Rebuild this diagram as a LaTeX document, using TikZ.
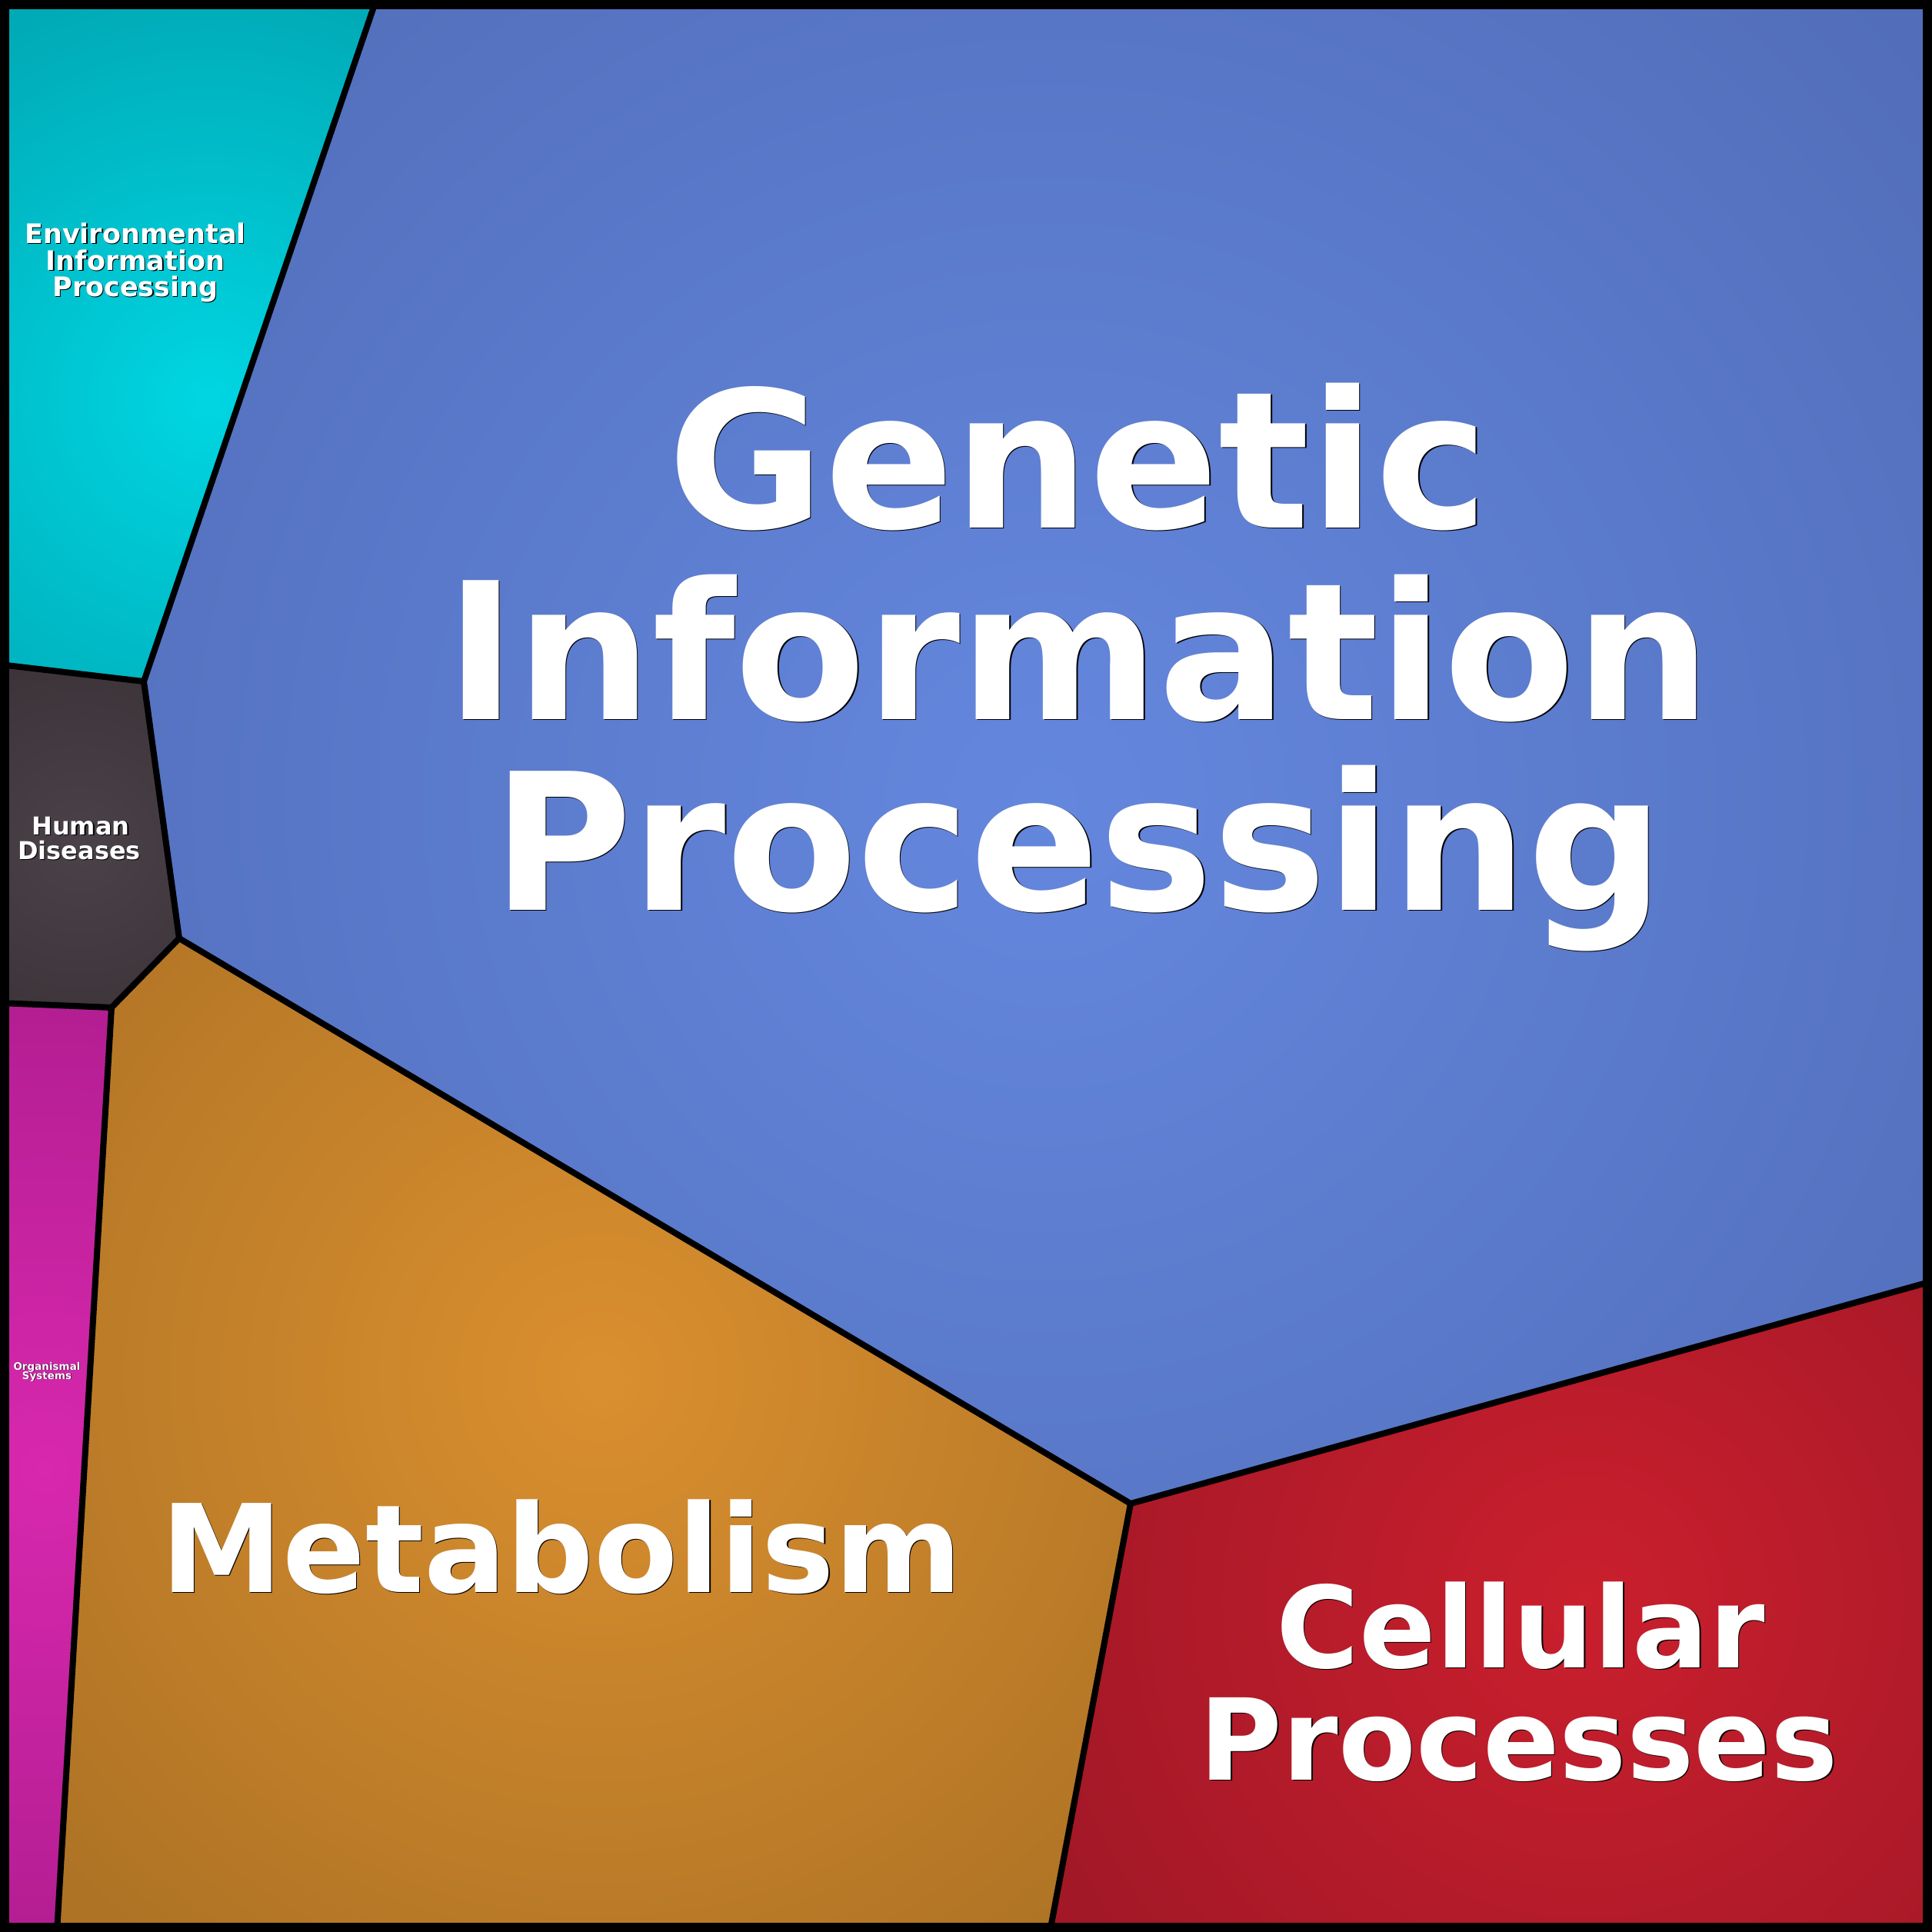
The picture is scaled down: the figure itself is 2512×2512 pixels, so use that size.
\documentclass[tikz,border=0pt]{standalone}
\usepackage{fontspec}
\setmainfont{DejaVu Sans}
\usetikzlibrary{calc}
\definecolor{genin}{HTML}{6487DE}
\definecolor{genout}{HTML}{526EBA}
\definecolor{envin}{HTML}{00D6E2}
\definecolor{envout}{HTML}{00A6B2}
\definecolor{humin}{HTML}{4A4248}
\definecolor{humout}{HTML}{3A3237}
\definecolor{orgin}{HTML}{D828AE}
\definecolor{orgout}{HTML}{AE1C8E}
\definecolor{metin}{HTML}{DA8F2F}
\definecolor{metout}{HTML}{AE7325}
\definecolor{celin}{HTML}{CA1F2D}
\definecolor{celout}{HTML}{A31827}
\pgfdeclareradialshading{genshade}{\pgfpointorigin}{color(0pt)=(genin); color(1500pt)=(genout); color(3000pt)=(genout)}
\pgfdeclareradialshading{envshade}{\pgfpointorigin}{color(0pt)=(envin); color(600pt)=(envout); color(1400pt)=(envout)}
\pgfdeclareradialshading{humshade}{\pgfpointorigin}{color(0pt)=(humin); color(280pt)=(humout); color(600pt)=(humout)}
\pgfdeclareradialshading{orgshade}{\pgfpointorigin}{color(0pt)=(orgin); color(700pt)=(orgout); color(1400pt)=(orgout)}
\pgfdeclareradialshading{metshade}{\pgfpointorigin}{color(0pt)=(metin); color(950pt)=(metout); color(2000pt)=(metout)}
\pgfdeclareradialshading{celshade}{\pgfpointorigin}{color(0pt)=(celin); color(750pt)=(celout); color(1600pt)=(celout)}
\tikzset{
  cellborder/.style={draw=black,line width=8pt,line join=miter},
  wtxt/.style={text=white,inner sep=0pt,anchor=base},
  stxt/.style={text=black,inner sep=0pt,anchor=base},
  shadenode/.style={inner sep=0pt,outer sep=0pt},
}
\newcommand\shadedcell[4]{% path, center, shading, outer
  \fill[#4] #1;
  \begin{scope}
    \clip #1;
    \node[shadenode] at #2 {\pgfuseshading{#3}};
  \end{scope}
}
\begin{document}
\begin{tikzpicture}[x=1pt,y=-1pt]
\useasboundingbox (0,0) rectangle (2512,2512);
% vertices
\coordinate (A) at (489,0);
\coordinate (B) at (187,886);
\coordinate (C) at (233,1220);
\coordinate (D) at (145,1310);
\coordinate (E) at (1470,1955);
\coordinate (L1) at (0,864);
\coordinate (L2) at (0,1304);
\coordinate (B1) at (74,2512);
\coordinate (B2) at (1365,2512);
\coordinate (R1) at (2512,1666);
\coordinate (TL) at (0,0);
\coordinate (TR) at (2512,0);
\coordinate (BL) at (0,2512);
\coordinate (BR) at (2512,2512);
% cells
\shadedcell{(TL) -- (A) -- (B) -- (L1) -- cycle}{(270,520)}{envshade}{envout}
\shadedcell{(L1) -- (B) -- (C) -- (D) -- (L2) -- cycle}{(105,1100)}{humshade}{humout}
\shadedcell{(L2) -- (D) -- (B1) -- (BL) -- cycle}{(58,1910)}{orgshade}{orgout}
\shadedcell{(D) -- (C) -- (E) -- (B2) -- (B1) -- cycle}{(780,1790)}{metshade}{metout}
\shadedcell{(E) -- (R1) -- (BR) -- (B2) -- cycle}{(2060,2080)}{celshade}{celout}
\shadedcell{(A) -- (TR) -- (R1) -- (E) -- (C) -- (B) -- cycle}{(1360,1040)}{genshade}{genout}
% borders
\draw[cellborder] (A) -- (B) -- (C) -- (E) -- (R1);
\draw[cellborder] (L1) -- (B);
\draw[cellborder] (C) -- (D) -- (B1);
\draw[cellborder] (L2) -- (D);
\draw[cellborder] (E) -- (B2);
\draw[line width=12pt] (6,6) rectangle (2506,2506);
% Genetic Information Processing
\begin{scope}[font=\bfseries\fontsize{248}{248}\selectfont]
\node[stxt] (g1s) at (1403.5,687.5) {Genetic};
\node[wtxt] (g1) at (1402,686) {Genetic};
\node[stxt] (g2s) at (1403.5,936.5) {Information};
\node[wtxt] (g2) at (1402,935) {Information};
\node[stxt] (g3s) at (1403.5,1184.5) {Processing};
\node[wtxt] (g3) at (1402,1183) {Processing};
\end{scope}
% Metabolism
\begin{scope}[font=\bfseries\fontsize{159}{159}\selectfont]
\node[stxt] (m1s) at (731.5,2071.5) {Metabolism};
\node[wtxt] (m1) at (730,2070) {Metabolism};
\end{scope}
% Cellular Processes
\begin{scope}[font=\bfseries\fontsize{147}{147}\selectfont]
\node[stxt] (c1s) at (1978.5,2169.5) {Cellular};
\node[wtxt] (c1) at (1977,2168) {Cellular};
\node[stxt] (c2s) at (1976.5,2315.5) {Processes};
\node[wtxt] (c2) at (1975,2314) {Processes};
\end{scope}
% Environmental Information Processing
\begin{scope}[font=\bfseries\fontsize{35}{35}\selectfont]
\node[stxt] (e1s) at (177.2,317.2) {Environmental};
\node[wtxt] (e1) at (176,316) {Environmental};
\node[stxt] (e2s) at (177.2,352.2) {Information};
\node[wtxt] (e2) at (176,351) {Information};
\node[stxt] (e3s) at (177.2,386.2) {Processing};
\node[wtxt] (e3) at (176,385) {Processing};
\end{scope}
% Human Diseases
\begin{scope}[font=\bfseries\fontsize{32}{32}\selectfont]
\node[stxt] (h1s) at (106.2,1086.2) {Human};
\node[wtxt] (h1) at (105,1085) {Human};
\node[stxt] (h2s) at (104.2,1118.2) {Diseases};
\node[wtxt] (h2) at (103,1117) {Diseases};
\end{scope}
% Organismal Systems
\begin{scope}[font=\bfseries\fontsize{13.5}{13.5}\selectfont]
\node[stxt] (o1s) at (61.8,1781.8) {Organismal};
\node[wtxt] (o1) at (61,1781) {Organismal};
\node[stxt] (o2s) at (61.8,1793.8) {Systems};
\node[wtxt] (o2) at (61,1793) {Systems};
\end{scope}
\end{tikzpicture}
\end{document}
